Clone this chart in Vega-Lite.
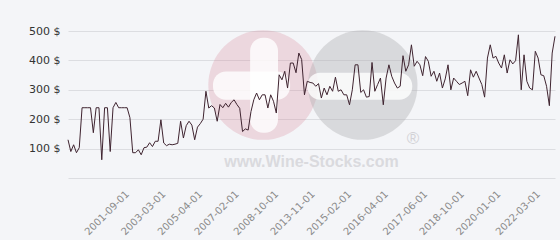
{
  "$schema": "https://vega.github.io/schema/vega-lite/v6.json",
  "width": 487,
  "height": 147,
  "autosize": {"type": "none"},
  "padding": {"left": 68, "top": 31, "right": 5, "bottom": 62},
  "background": "#f4f5f8",
  "config": {"view": {"stroke": null}, "font": "DejaVu Sans"},
  "data": {"values": [
    {"d":"1999-12-01","p":130},{"d":"2000-01-01","p":90},{"d":"2000-02-01","p":113},{"d":"2000-03-01","p":86},{"d":"2000-04-01","p":103},
    {"d":"2000-05-01","p":239},{"d":"2000-06-01","p":239},{"d":"2000-07-01","p":239},{"d":"2000-08-01","p":239},{"d":"2000-09-01","p":154},
    {"d":"2000-10-01","p":239},{"d":"2000-11-01","p":239},{"d":"2000-12-01","p":62},{"d":"2001-01-01","p":239},{"d":"2001-02-01","p":239},
    {"d":"2001-03-01","p":90},{"d":"2001-04-01","p":239},{"d":"2001-05-01","p":257},{"d":"2001-06-01","p":239},{"d":"2001-07-01","p":239},
    {"d":"2001-08-01","p":239},{"d":"2001-09-01","p":239},{"d":"2001-10-01","p":205},{"d":"2001-11-01","p":86},{"d":"2001-12-01","p":86},
    {"d":"2002-01-01","p":96},{"d":"2002-02-01","p":79},{"d":"2002-03-01","p":103},{"d":"2002-05-01","p":105},{"d":"2002-06-01","p":120},
    {"d":"2002-08-01","p":107},{"d":"2002-09-01","p":125},{"d":"2002-10-01","p":125},{"d":"2002-12-01","p":198},{"d":"2003-03-01","p":119},
    {"d":"2003-05-01","p":110},{"d":"2003-07-01","p":115},{"d":"2003-09-01","p":113},{"d":"2003-11-01","p":115},{"d":"2004-01-01","p":118},
    {"d":"2004-03-01","p":193},{"d":"2004-05-01","p":136},{"d":"2004-07-01","p":178},{"d":"2004-09-01","p":193},{"d":"2004-11-01","p":180},
    {"d":"2005-01-01","p":130},{"d":"2005-02-01","p":173},{"d":"2005-04-01","p":185},{"d":"2005-06-01","p":200},{"d":"2005-08-01","p":295},
    {"d":"2005-09-01","p":238},{"d":"2005-11-01","p":246},{"d":"2006-01-01","p":238},{"d":"2006-02-01","p":193},{"d":"2006-04-01","p":250},
    {"d":"2006-06-01","p":239},{"d":"2006-08-01","p":254},{"d":"2006-09-01","p":241},{"d":"2006-11-01","p":257},{"d":"2006-12-01","p":266},
    {"d":"2007-02-01","p":250},{"d":"2007-03-01","p":237},{"d":"2007-05-01","p":158},{"d":"2007-06-01","p":167},{"d":"2007-08-01","p":163},
    {"d":"2007-09-01","p":226},{"d":"2007-10-01","p":266},{"d":"2007-12-01","p":289},{"d":"2008-01-01","p":266},{"d":"2008-03-01","p":283},
    {"d":"2008-04-01","p":283},{"d":"2008-06-01","p":238},{"d":"2008-07-01","p":283},{"d":"2008-09-01","p":261},{"d":"2008-10-01","p":221},
    {"d":"2009-02-01","p":351},{"d":"2009-07-01","p":334},{"d":"2009-12-01","p":363},{"d":"2010-04-01","p":306},{"d":"2010-09-01","p":391},
    {"d":"2011-02-01","p":391},{"d":"2011-07-01","p":358},{"d":"2011-12-01","p":425},{"d":"2012-04-01","p":403},{"d":"2012-09-01","p":283},
    {"d":"2013-02-01","p":329},{"d":"2013-07-01","p":325},{"d":"2013-11-01","p":323},{"d":"2013-12-01","p":312},{"d":"2014-01-01","p":321},
    {"d":"2014-02-01","p":272},{"d":"2014-03-01","p":306},{"d":"2014-04-01","p":283},{"d":"2014-06-01","p":312},{"d":"2014-07-01","p":295},
    {"d":"2014-08-01","p":343},{"d":"2014-09-01","p":295},{"d":"2014-10-01","p":300},{"d":"2014-11-01","p":283},{"d":"2015-01-01","p":283},
    {"d":"2015-02-01","p":249},{"d":"2015-03-01","p":300},{"d":"2015-04-01","p":385},{"d":"2015-05-01","p":385},{"d":"2015-06-01","p":291},
    {"d":"2015-07-01","p":300},{"d":"2015-08-01","p":275},{"d":"2015-09-01","p":277},{"d":"2015-10-01","p":393},{"d":"2015-11-01","p":295},
    {"d":"2016-01-01","p":318},{"d":"2016-02-01","p":340},{"d":"2016-03-01","p":249},{"d":"2016-04-01","p":340},{"d":"2016-05-01","p":385},
    {"d":"2016-06-01","p":346},{"d":"2016-07-01","p":323},{"d":"2016-08-01","p":306},{"d":"2016-09-01","p":312},{"d":"2016-10-01","p":416},
    {"d":"2016-11-01","p":363},{"d":"2016-12-01","p":385},{"d":"2017-01-01","p":453},{"d":"2017-02-01","p":380},{"d":"2017-03-01","p":397},
    {"d":"2017-04-01","p":385},{"d":"2017-05-01","p":348},{"d":"2017-06-01","p":413},{"d":"2017-07-01","p":397},{"d":"2017-08-01","p":346},
    {"d":"2017-09-01","p":363},{"d":"2017-10-01","p":329},{"d":"2017-11-01","p":357},{"d":"2018-01-01","p":306},{"d":"2018-02-01","p":337},
    {"d":"2018-03-01","p":385},{"d":"2018-04-01","p":300},{"d":"2018-06-01","p":340},{"d":"2018-07-01","p":329},{"d":"2018-09-01","p":318},
    {"d":"2018-10-01","p":323},{"d":"2018-11-01","p":329},{"d":"2018-12-01","p":280},{"d":"2019-01-01","p":368},{"d":"2019-02-01","p":343},
    {"d":"2019-03-01","p":363},{"d":"2019-04-01","p":340},{"d":"2019-06-01","p":318},{"d":"2019-07-01","p":275},{"d":"2019-08-01","p":408},
    {"d":"2019-09-01","p":453},{"d":"2019-10-01","p":408},{"d":"2019-12-01","p":414},{"d":"2020-01-01","p":391},{"d":"2020-03-01","p":374},
    {"d":"2020-05-01","p":419},{"d":"2020-07-01","p":357},{"d":"2020-09-01","p":402},{"d":"2020-11-01","p":388},{"d":"2021-01-01","p":399},
    {"d":"2021-03-01","p":487},{"d":"2021-05-01","p":300},{"d":"2021-07-01","p":419},{"d":"2021-09-01","p":329},{"d":"2021-10-01","p":306},
    {"d":"2021-12-01","p":300},{"d":"2022-01-01","p":431},{"d":"2022-03-01","p":408},{"d":"2022-05-01","p":351},{"d":"2022-07-01","p":348},
    {"d":"2022-09-01","p":312},{"d":"2022-11-01","p":246},{"d":"2023-01-01","p":425},{"d":"2023-03-01","p":482}
  ]},
  "layer": [
    {
      "data": {"values": [{}]},
      "layer": [
        {
          "mark": {"type": "point", "filled": true, "shape": "circle", "size": 12000, "color": "#d88a9c", "opacity": 0.28},
          "encoding": {
            "x": {"datum": 69.3, "type": "quantitative", "scale": {"domain": [0, 173], "nice": false, "zero": false}, "axis": null},
            "y": {"datum": 316, "type": "quantitative", "scale": {"domain": [0, 500], "nice": false}, "axis": null}
          }
        },
        {
          "mark": {"type": "point", "filled": true, "shape": "circle", "size": 12000, "color": "#b0b0b2", "opacity": 0.4},
          "encoding": {
            "x": {"datum": 104.7, "type": "quantitative", "scale": {"domain": [0, 173], "nice": false, "zero": false}, "axis": null},
            "y": {"datum": 316, "type": "quantitative", "scale": {"domain": [0, 500], "nice": false}, "axis": null}
          }
        },
        {
          "mark": {"type": "rect", "color": "#ffffff", "opacity": 0.8, "cornerRadius": 13},
          "encoding": {
            "x": {"datum": 51.5, "type": "quantitative", "scale": {"domain": [0, 173], "nice": false, "zero": false}, "axis": null},
            "x2": {"datum": 78.9},
            "y": {"datum": 362, "type": "quantitative", "scale": {"domain": [0, 500], "nice": false}, "axis": null},
            "y2": {"datum": 266}
          }
        },
        {
          "mark": {"type": "rect", "color": "#ffffff", "opacity": 0.8, "cornerRadius": 13},
          "encoding": {
            "x": {"datum": 64.7, "type": "quantitative", "scale": {"domain": [0, 173], "nice": false, "zero": false}, "axis": null},
            "x2": {"datum": 74.6},
            "y": {"datum": 477, "type": "quantitative", "scale": {"domain": [0, 500], "nice": false}, "axis": null},
            "y2": {"datum": 154}
          }
        },
        {
          "mark": {"type": "rect", "color": "#ffffff", "opacity": 0.8, "cornerRadius": 13},
          "encoding": {
            "x": {"datum": 85, "type": "quantitative", "scale": {"domain": [0, 173], "nice": false, "zero": false}, "axis": null},
            "x2": {"datum": 122.3},
            "y": {"datum": 358, "type": "quantitative", "scale": {"domain": [0, 500], "nice": false}, "axis": null},
            "y2": {"datum": 266}
          }
        },
        {
          "mark": {"type": "text", "text": "www.Wine-Stocks.com", "font": "Liberation Sans", "fontWeight": "bold", "fontSize": 16, "color": "#dadade", "align": "center", "baseline": "middle"},
          "encoding": {
            "x": {"datum": 86.5, "type": "quantitative", "scale": {"domain": [0, 173], "nice": false, "zero": false}, "axis": null},
            "y": {"datum": 55, "type": "quantitative", "scale": {"domain": [0, 500], "nice": false}, "axis": null}
          }
        },
        {
          "mark": {"type": "text", "text": "®", "font": "Liberation Sans", "fontSize": 17, "color": "#d2d2d6", "align": "center", "baseline": "middle"},
          "encoding": {
            "x": {"datum": 122.6, "type": "quantitative", "scale": {"domain": [0, 173], "nice": false, "zero": false}, "axis": null},
            "y": {"datum": 134, "type": "quantitative", "scale": {"domain": [0, 500], "nice": false}, "axis": null}
          }
        }
      ]
    },
    {
      "mark": {"type": "line", "color": "#3f2430", "strokeWidth": 1},
      "encoding": {
        "x": {
          "field": "d", "type": "ordinal", "sort": null,
          "scale": {"type": "point", "padding": 0},
          "axis": {
            "values": ["2001-09-01","2003-03-01","2005-04-01","2007-02-01","2008-10-01","2013-11-01","2015-02-01","2016-04-01","2017-06-01","2018-10-01","2020-01-01","2022-03-01"],
            "title": null, "labelAngle": -45, "labelAlign": "right", "labelBaseline": "middle",
            "labelPadding": 14, "labelFontSize": 10, "labelColor": "#8a8a8a",
            "ticks": false, "domain": false, "grid": false, "labelOverlap": false
          }
        },
        "y": {
          "field": "p", "type": "quantitative",
          "scale": {"domain": [0, 500], "nice": false},
          "axis": {
            "values": [0, 100, 200, 300, 400, 500],
            "labelExpr": "datum.value == 0 ? '' : datum.value + ' $'",
            "title": null, "ticks": false, "domain": false, "labelOverlap": false,
            "grid": true, "gridColor": "#dcdde1", "gridWidth": 1,
            "labelFontSize": 11, "labelColor": "#333333", "labelPadding": 8
          }
        }
      }
    }
  ],
  "resolve": {"scale": {"x": "independent", "y": "independent"}}
}
